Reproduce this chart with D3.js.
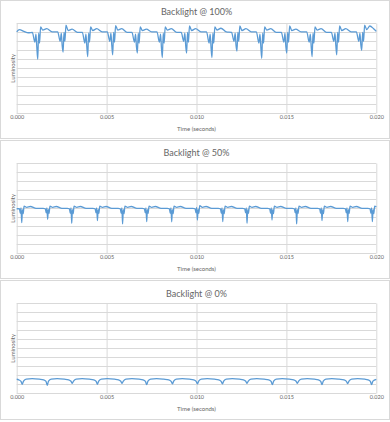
<!DOCTYPE html>
<html><head><meta charset="utf-8">
<script src="https://cdn.jsdelivr.net/npm/d3@7"></script>
<style>html,body{margin:0;padding:0;background:#fff;}svg{display:block;font-family:Lato,"Open Sans",sans-serif;}</style>
</head><body>
<script>
const titles = ["Backlight @ 100%", "Backlight @ 50%", "Backlight @ 0%"];
const xTickValues = [0, 5, 10, 15, 20]; // milliseconds
const xTickLabels = ["0.000", "0.005", "0.010", "0.015", "0.020"];
const xTitle = "Time (seconds)";
const yTitle = "Luminosity";

// [time (ms), luminosity (0-10 grid units)]
const wave100 = [
[0.00,9.05],[0.15,9.30],[0.40,9.10],[0.65,8.95],
[0.87,9.00],[1.01,7.90],[1.07,8.80],[1.12,7.30],[1.17,6.00],[1.22,8.90],[1.27,7.80],[1.33,9.60],[1.45,9.25],[1.67,9.40],[1.97,9.05],
[2.28,9.05],[2.42,8.00],[2.48,8.90],[2.53,7.50],[2.58,6.80],[2.63,9.00],[2.68,8.00],[2.74,9.80],[2.86,9.20],[3.08,9.35],[3.38,9.00],
[3.65,9.00],[3.79,7.80],[3.85,8.80],[3.90,7.40],[3.95,6.30],[4.00,8.90],[4.05,7.90],[4.11,9.60],[4.23,9.20],[4.45,9.40],[4.75,9.05],
[5.04,9.05],[5.18,8.00],[5.24,8.90],[5.29,7.50],[5.34,6.50],[5.39,9.00],[5.44,7.90],[5.50,9.75],[5.62,9.25],[5.84,9.40],[6.14,9.00],
[6.41,9.00],[6.55,7.90],[6.61,8.80],[6.66,7.40],[6.71,6.70],[6.76,8.90],[6.81,7.80],[6.87,9.60],[6.99,9.20],[7.21,9.35],[7.51,9.05],
[7.80,9.05],[7.94,7.90],[8.00,8.80],[8.05,7.30],[8.10,6.20],[8.15,8.90],[8.20,7.80],[8.26,9.60],[8.38,9.25],[8.60,9.40],[8.90,9.00],
[9.15,9.00],[9.29,8.00],[9.35,8.90],[9.40,7.50],[9.45,6.70],[9.50,9.00],[9.55,7.90],[9.61,9.70],[9.73,9.20],[9.95,9.40],[10.25,9.05],
[10.56,9.05],[10.70,7.80],[10.76,8.80],[10.81,7.30],[10.86,6.20],[10.91,8.90],[10.96,7.80],[11.02,9.60],[11.14,9.25],[11.36,9.45],[11.66,9.05],
[11.95,9.00],[12.09,8.00],[12.15,8.90],[12.20,7.50],[12.25,6.90],[12.30,9.00],[12.35,8.00],[12.41,9.70],[12.53,9.20],[12.75,9.40],[13.05,9.05],
[13.33,9.05],[13.47,7.80],[13.53,8.80],[13.58,7.30],[13.63,6.10],[13.68,8.90],[13.73,7.80],[13.79,9.60],[13.91,9.25],[14.13,9.40],[14.43,9.00],
[14.72,9.00],[14.86,7.90],[14.92,8.90],[14.97,7.40],[15.02,6.70],[15.07,9.00],[15.12,7.90],[15.18,9.70],[15.30,9.20],[15.52,9.35],[15.82,9.05],
[16.13,9.05],[16.27,7.90],[16.33,8.80],[16.38,7.40],[16.43,6.30],[16.48,8.90],[16.53,7.80],[16.59,9.60],[16.71,9.25],[16.93,9.40],[17.23,9.00],
[17.50,9.00],[17.64,8.00],[17.70,8.90],[17.75,7.50],[17.80,6.50],[17.85,9.00],[17.90,7.90],[17.96,9.70],[18.08,9.20],[18.30,9.40],[18.60,9.05],
[18.89,9.05],[19.03,8.00],[19.09,8.90],[19.14,7.60],[19.19,7.00],[19.24,9.00],[19.29,8.00],[19.35,9.80],[19.47,9.30],[19.64,9.70],[19.85,9.40],[20.00,9.10]
];

const wave50 = [
[0.00,4.95],[0.15,4.95],[0.20,4.45],[0.24,5.05],[0.28,3.40],[0.32,4.85],[0.36,4.40],[0.41,5.25],[0.56,5.10],[0.76,5.20],[1.08,5.00],
[1.47,5.00],[1.59,4.95],[1.64,4.50],[1.68,5.05],[1.72,3.78],[1.76,4.85],[1.80,4.45],[1.85,5.25],[2.00,5.10],[2.20,5.20],[2.52,5.00],
[2.81,5.00],[2.93,4.95],[2.98,4.45],[3.02,5.05],[3.06,3.33],[3.10,4.85],[3.14,4.40],[3.19,5.25],[3.34,5.10],[3.54,5.20],[3.86,5.00],
[4.24,5.00],[4.36,4.95],[4.41,4.50],[4.45,5.05],[4.49,3.63],[4.53,4.85],[4.57,4.45],[4.62,5.25],[4.77,5.10],[4.97,5.20],[5.29,5.00],
[5.64,5.00],[5.76,4.95],[5.81,4.45],[5.85,5.05],[5.89,3.26],[5.93,4.85],[5.97,4.40],[6.02,5.25],[6.17,5.10],[6.37,5.20],[6.69,5.00],
[6.98,5.00],[7.10,4.95],[7.15,4.50],[7.19,5.05],[7.23,3.51],[7.27,4.85],[7.31,4.45],[7.36,5.25],[7.51,5.10],[7.71,5.20],[8.03,5.00],
[8.37,5.00],[8.49,4.95],[8.54,4.45],[8.58,5.05],[8.62,3.50],[8.66,4.85],[8.70,4.40],[8.75,5.25],[8.90,5.10],[9.10,5.20],[9.42,5.00],
[9.80,5.00],[9.92,4.95],[9.97,4.50],[10.01,5.10],[10.05,3.70],[10.09,4.85],[10.13,4.45],[10.18,5.30],[10.33,5.10],[10.53,5.20],[10.85,5.00],
[11.21,5.00],[11.33,4.95],[11.38,4.45],[11.42,5.05],[11.46,3.51],[11.50,4.85],[11.54,4.40],[11.59,5.25],[11.74,5.10],[11.94,5.20],[12.26,5.00],
[12.56,5.00],[12.68,4.95],[12.73,4.50],[12.77,5.05],[12.81,3.33],[12.85,4.85],[12.89,4.45],[12.94,5.25],[13.09,5.10],[13.29,5.20],[13.61,5.00],
[13.95,5.00],[14.07,4.95],[14.12,4.45],[14.16,5.05],[14.20,3.70],[14.24,4.85],[14.28,4.40],[14.33,5.25],[14.48,5.10],[14.68,5.20],[15.00,5.00],
[15.32,5.00],[15.44,4.95],[15.49,4.50],[15.53,5.05],[15.57,3.26],[15.61,4.85],[15.65,4.45],[15.70,5.25],[15.85,5.10],[16.05,5.20],[16.37,5.00],
[16.73,5.00],[16.85,4.95],[16.90,4.45],[16.94,5.05],[16.98,3.63],[17.02,4.85],[17.06,4.40],[17.11,5.25],[17.26,5.10],[17.46,5.20],[17.78,5.00],
[18.16,5.00],[18.28,4.95],[18.33,4.50],[18.37,5.05],[18.41,3.51],[18.45,4.85],[18.49,4.45],[18.54,5.25],[18.69,5.10],[18.89,5.20],[19.21,5.00],
[19.53,5.00],[19.65,4.95],[19.70,4.45],[19.74,5.05],[19.78,3.51],[19.82,4.85],[19.86,4.40],[19.91,5.25],[20.00,5.15]
];

const wave0 = [
[0.00,1.56],[0.11,1.50],[0.24,1.32],[0.31,1.00],[0.38,1.35],[0.53,1.58],[0.86,1.63],[1.26,1.57],
[1.50,1.50],[1.63,1.32],[1.70,0.89],[1.77,1.35],[1.92,1.58],[2.25,1.63],[2.65,1.57],
[2.89,1.50],[3.02,1.34],[3.09,1.11],[3.16,1.36],[3.31,1.58],[3.64,1.63],[4.04,1.57],
[4.29,1.50],[4.42,1.32],[4.49,1.00],[4.56,1.35],[4.71,1.58],[5.04,1.63],[5.44,1.57],
[5.66,1.50],[5.79,1.34],[5.86,1.11],[5.93,1.36],[6.08,1.58],[6.41,1.63],[6.81,1.57],
[7.03,1.50],[7.16,1.32],[7.23,0.96],[7.30,1.35],[7.45,1.58],[7.78,1.63],[8.18,1.57],
[8.46,1.50],[8.59,1.33],[8.66,1.04],[8.73,1.35],[8.88,1.58],[9.21,1.63],[9.61,1.57],
[9.85,1.50],[9.98,1.33],[10.05,1.04],[10.12,1.35],[10.27,1.58],[10.60,1.63],[11.00,1.57],
[11.24,1.50],[11.37,1.33],[11.44,1.04],[11.51,1.35],[11.66,1.58],[11.99,1.63],[12.39,1.57],
[12.61,1.50],[12.74,1.34],[12.81,1.11],[12.88,1.36],[13.03,1.58],[13.36,1.63],[13.76,1.57],
[14.02,1.50],[14.15,1.32],[14.22,0.96],[14.29,1.35],[14.44,1.58],[14.77,1.63],[15.17,1.57],
[15.41,1.50],[15.54,1.34],[15.61,1.11],[15.68,1.36],[15.83,1.58],[16.16,1.63],[16.56,1.57],
[16.78,1.50],[16.91,1.32],[16.98,0.96],[17.05,1.35],[17.20,1.58],[17.53,1.63],[17.93,1.57],
[18.21,1.50],[18.34,1.33],[18.41,1.07],[18.48,1.35],[18.63,1.58],[18.96,1.63],[19.36,1.57],
[19.54,1.50],[19.67,1.32],[19.74,0.96],[19.81,1.35],[20.00,1.55]
];

const waves = [wave100, wave50, wave0];
const yGridValues = d3.range(0, 11);

const W = 390, H = 422;
const svg = d3.select("body").append("svg").attr("width", W).attr("height", H);
svg.append("rect").attr("width", W).attr("height", H).attr("fill", "#fff");

const panelTops = [1, 141, 281];
const panelH = [138, 138, 139];
const plotLeft = 16.7, plotRight = 376.3;
const plotOffset = 22.3, plotH = 90;
const titleOffset = [10.5, 11, 12];
const textColor = "#666666";
const gridColor = "#D9D9D9";

const x = d3.scaleLinear().domain([0, 20]).range([plotLeft, plotRight]);

waves.forEach((data, i) => {
  const top = panelTops[i];
  const g = svg.append("g");
  g.append("rect").attr("x", 0.5).attr("y", top + 0.5 - 1).attr("width", W - 1).attr("height", panelH[i])
    .attr("fill", "#fff").attr("stroke", gridColor).attr("stroke-width", 1);

  const y0 = top + plotOffset, y1 = y0 + plotH;
  const y = d3.scaleLinear().domain([0, 10]).range([y1, y0]);

  g.selectAll(".hg").data(yGridValues).join("line")
    .attr("x1", plotLeft).attr("x2", plotRight)
    .attr("y1", d => Math.round(y(d)) + 0.5).attr("y2", d => Math.round(y(d)) + 0.5)
    .attr("stroke", gridColor).attr("stroke-width", 1);

  const xAxis = d3.axisBottom(x).tickValues(xTickValues)
    .tickFormat((d, k) => xTickLabels[k]).tickSize(-(plotH)).tickPadding(4);
  const ax = g.append("g").attr("transform", `translate(0,${Math.round(y1) + 0.5})`).call(xAxis);
  ax.select(".domain").remove();
  ax.selectAll(".tick line").attr("stroke", gridColor);
  ax.selectAll(".tick text").attr("fill", textColor).attr("font-size", 5.5).attr("dy", "0.2em")
    .style("font-family", "Lato, 'Open Sans', sans-serif");

  const line = d3.line().x(d => x(d[0])).y(d => y(d[1])).curve(d3.curveMonotoneX);
  g.append("path").datum(data).attr("d", line)
    .attr("fill", "none").attr("stroke", "#5B9BD5").attr("stroke-width", 1.3)
    .attr("stroke-linejoin", "round");

  g.append("text").attr("x", (plotLeft + plotRight) / 2).attr("y", top + titleOffset[i])
    .attr("text-anchor", "middle").attr("dominant-baseline", "central")
    .attr("fill", textColor).attr("font-size", 9).text(titles[i]);
  g.append("text").attr("x", (plotLeft + plotRight) / 2).attr("y", y1 + 15)
    .attr("text-anchor", "middle").attr("dominant-baseline", "central")
    .attr("fill", textColor).attr("font-size", 6).text(xTitle);
  g.append("text").attr("transform", `translate(12,${(y0 + y1) / 2}) rotate(-90)`)
    .attr("text-anchor", "middle").attr("dominant-baseline", "central")
    .attr("fill", textColor).attr("font-size", 6).text(yTitle);
});
</script>
</body></html>
